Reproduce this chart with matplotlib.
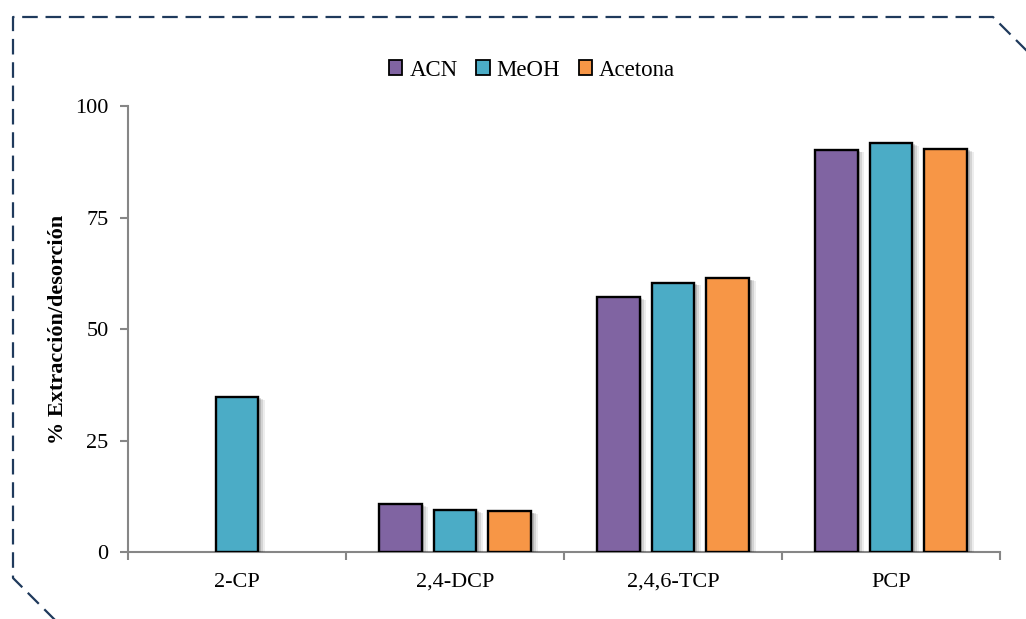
import matplotlib.pyplot as plt
import matplotlib.patheffects as pe
from matplotlib.lines import Line2D
from matplotlib.patches import Patch
import numpy as np

plt.rcParams['font.family'] = ['Liberation Serif', 'DejaVu Serif']

compuestos = ["2-CP", "2,4-DCP", "2,4,6-TCP", "PCP"]
disolventes = ["ACN", "MeOH", "Acetona"]
colores = ["#8064A2", "#4BACC6", "#F79646"]

# % extraccion/desorcion por disolvente (None = sin dato)
acn = [None, 10.8, 57.2, 90.2]
meoh = [34.8, 9.4, 60.4, 91.7]
acetona = [None, 9.1, 61.4, 90.4]
series = [acn, meoh, acetona]

W, H = 1026, 619
fig = plt.figure(figsize=(W / 100, H / 100), dpi=100)
ax = fig.add_axes([128 / W, 1 - 552 / H, (1000 - 128) / W, (552 - 106) / H])

x = np.arange(len(compuestos))
ancho = 0.197
paso = 0.252
sombra = [pe.SimplePatchShadow(offset=(4.5, -2.0), shadow_rgbFace='k', alpha=0.07),
          pe.SimplePatchShadow(offset=(3.2, -1.5), shadow_rgbFace='k', alpha=0.10),
          pe.SimplePatchShadow(offset=(2.0, -1.0), shadow_rgbFace='k', alpha=0.15),
          pe.Normal()]

for i, (serie, color) in enumerate(zip(series, colores)):
    for j, v in enumerate(serie):
        if v is None:
            continue
        b = ax.bar(x[j] + (i - 1) * paso, v, width=ancho, color=color,
                   edgecolor='black', linewidth=1.7, zorder=3)
        for p in b:
            p.set_path_effects(sombra)

ax.set_xlim(-0.5, len(compuestos) - 0.5)
ax.set_ylim(0, 100)
ax.set_yticks([0, 25, 50, 75, 100])
ax.set_xticks(x)
ax.set_xticklabels(compuestos, fontsize=16)
ax.set_xticks(np.arange(-0.5, len(compuestos)), minor=True)
ax.tick_params(axis='x', which='major', length=0, pad=15)
ax.tick_params(axis='x', which='minor', length=6, width=1.5, color='#868686', direction='out')
ax.tick_params(axis='y', length=6, width=1.5, color='#868686', labelsize=16, pad=8)

for lado in ['top', 'right']:
    ax.spines[lado].set_visible(False)
for lado in ['left', 'bottom']:
    ax.spines[lado].set_color('#868686')
    ax.spines[lado].set_linewidth(1.5)

ax.set_ylabel("% Extracción/desorción", fontsize=16, fontweight='bold', labelpad=5)

handles = [Patch(facecolor=c, edgecolor='black', linewidth=1.3) for c in colores]
fig.legend(handles, disolventes, loc='center', bbox_to_anchor=(532 / W, 1 - 70 / H),
           ncol=3, frameon=False, fontsize=16.5, handlelength=0.6, handleheight=0.6,
           handletextpad=0.3, columnspacing=0.8)

# marco discontinuo con esquinas recortadas
bx = [1040, 993, 13, 13, 60]
by = [64, 17, 17, 578, 625]
fig.add_artist(Line2D([v / W for v in bx], [1 - v / H for v in by],
                      transform=fig.transFigure, color='#1F3A5C', linewidth=1.6,
                      linestyle=(0, (7, 3.5)), clip_on=False))

fig.savefig("out.png", dpi=100)
